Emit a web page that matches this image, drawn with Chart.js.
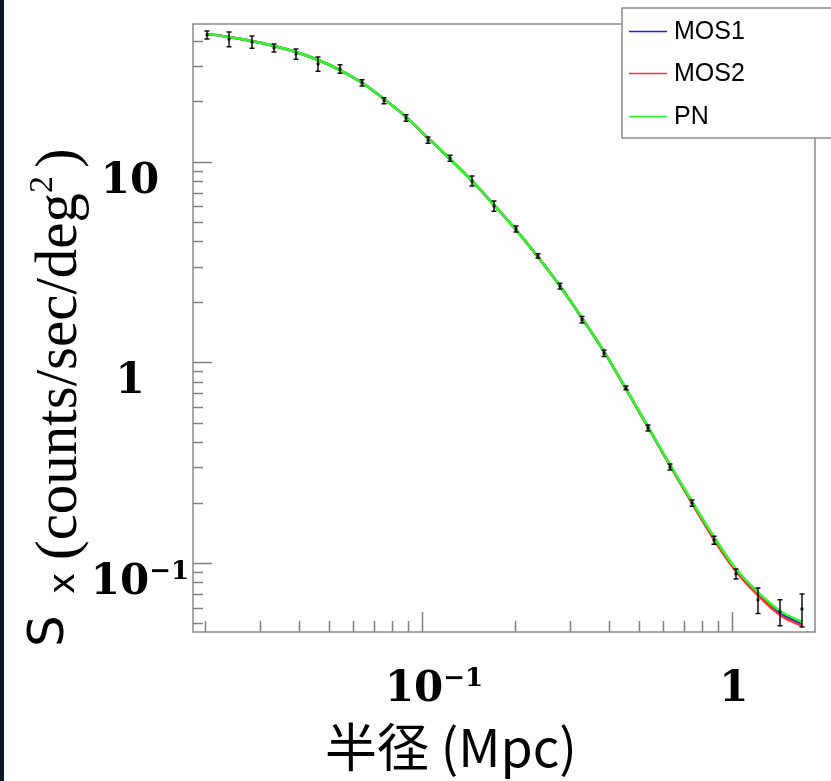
<!DOCTYPE html>
<html>
<head>
<meta charset="utf-8">
<title>Sx profile</title>
<script src="https://cdn.jsdelivr.net/npm/chart.js@4/dist/chart.umd.min.js"></script>
<style>
    html, body { margin: 0; padding: 0; background: #ffffff; }
    body { width: 831px; height: 781px; position: relative; overflow: hidden; }
    #strip { position: absolute; left: 0; top: 0; width: 4px; height: 781px; background: #0b1b2d; }
    #profileChart { position: absolute; left: 0; top: 0; }
</style>
</head>
<body>
<div id="strip"></div>
<canvas id="profileChart" width="831" height="781"></canvas>
<script>
// Radii (Mpc) of the measured bins
const radii = [0.02025, 0.02384, 0.02828, 0.03331, 0.03922, 0.04619, 0.05437, 0.06403,
    0.07541, 0.08878, 0.1046, 0.1231, 0.1449, 0.1707, 0.2010, 0.2366, 0.2787, 0.3282,
    0.3865, 0.4550, 0.5358, 0.6310, 0.7430, 0.8748, 1.030, 1.213, 1.428, 1.682];

// Measured surface brightness and its error
const sxData = [42.8, 40.8, 39.5, 36.9, 34.4, 30.7, 29.0, 24.7, 20.1, 16.5, 12.8, 10.4,
    8.01, 6.01, 4.62, 3.39, 2.40, 1.63, 1.11, 0.746, 0.471, 0.301, 0.199, 0.130,
    0.0883, 0.0655, 0.0571, 0.059];
const sxErr = [2.0, 3.4, 2.8, 1.7, 2.0, 2.5, 1.4, 0.9, 0.7, 0.6, 0.45, 0.36,
    0.46, 0.35, 0.16, 0.08, 0.08, 0.06, 0.04, 0.017, 0.016, 0.01, 0.007, 0.006,
    0.005, 0.0095, 0.0085, 0.011];

// Model curves
const mos1Model = [43.3, 41.8, 39.9, 37.7, 35.2, 32.1, 28.6, 24.7, 20.5, 16.7, 13.1, 10.3,
    8.01, 6.08, 4.57, 3.35, 2.40, 1.66, 1.13, 0.738, 0.476, 0.307, 0.200, 0.132,
    0.0920, 0.0699, 0.0562, 0.0497];
const mos2Model = [43.3, 41.8, 39.9, 37.7, 35.2, 32.1, 28.6, 24.7, 20.5, 16.7, 13.1, 10.3,
    8.01, 6.08, 4.57, 3.35, 2.40, 1.66, 1.13, 0.738, 0.476, 0.306, 0.199, 0.131,
    0.0910, 0.0690, 0.0550, 0.0485];
const pnModel = [43.3, 41.8, 39.9, 37.7, 35.2, 32.1, 28.6, 24.7, 20.5, 16.7, 13.1, 10.3,
    8.01, 6.08, 4.57, 3.35, 2.40, 1.66, 1.13, 0.740, 0.478, 0.309, 0.203, 0.135,
    0.0935, 0.0715, 0.0576, 0.0508];

// Axis ranges and labelled decades
const xRange = [0.01824, 1.853];
const yRange = [0.0453, 48.5];
const xTickLabels = [{ value: 0.1, base: '10', exp: '\u22121' }, { value: 1, base: '1', exp: '' }];
const yTickLabels = [{ value: 0.1, base: '10', exp: '\u22121' }, { value: 1, base: '1', exp: '' }, { value: 10, base: '10', exp: '' }];

const seriesNames = ['MOS1', 'MOS2', 'PN'];
const seriesColors = ['#1a1aff', '#ff3030', '#22ff22'];

document.addEventListener('DOMContentLoaded', function() {
    initProfileChart();
});

/**
 * Build {x, y} points from two arrays
 */
function toPoints(xs, ys) {
    return xs.map((x, i) => ({ x: x, y: ys[i] }));
}

/**
 * Draw a label like 10^-1 centred on cx
 */
function drawPowerLabel(ctx, base, exp, cx, baseline) {
    const baseFont = 'bold 42px "DejaVu Serif"';
    const expFont = 'bold 26px "DejaVu Serif"';
    ctx.font = baseFont;
    const wBase = ctx.measureText(base).width;
    ctx.font = expFont;
    const wExp = exp ? ctx.measureText(exp).width : 0;
    const shift = exp ? 10 : 0;
    const start = cx - (wBase + wExp) / 2 + shift;
    ctx.textAlign = 'left';
    ctx.textBaseline = 'alphabetic';
    ctx.fillStyle = '#000000';
    ctx.font = baseFont;
    ctx.fillText(base, start, baseline);
    if (exp) {
        ctx.font = expFont;
        ctx.fillText(exp, start + wBase, baseline - 15);
    }
}

/**
 * Draw rotated text piece at a screen position (reads bottom to top)
 */
function drawUp(ctx, text, font, x, y) {
    ctx.save();
    ctx.translate(x, y);
    ctx.rotate(-Math.PI / 2);
    ctx.font = font;
    ctx.textAlign = 'left';
    ctx.textBaseline = 'alphabetic';
    ctx.fillStyle = '#000000';
    ctx.fillText(text, 0, 0);
    const w = ctx.measureText(text).width;
    ctx.restore();
    return w;
}

// ROOT style frame, inner ticks, labels and titles
const framePlugin = {
    id: 'rootFrame',
    afterDraw(chart) {
        const ctx = chart.ctx;
        const area = chart.chartArea;
        const xs = chart.scales.x;
        const ys = chart.scales.y;

        ctx.save();
        // Ticks
        ctx.strokeStyle = '#808080';
        ctx.lineWidth = 1.5;
        for (let e = -3; e <= 2; e++) {
            for (let m = 1; m <= 9; m++) {
                const v = m * Math.pow(10, e);
                const len = m === 1 ? 19 : 10;
                if (v > yRange[0] && v < yRange[1]) {
                    const py = Math.round(ys.getPixelForValue(v)) + 0.5;
                    ctx.beginPath();
                    ctx.moveTo(area.left, py);
                    ctx.lineTo(area.left + len, py);
                    ctx.stroke();
                }
                if (v > xRange[0] && v < xRange[1]) {
                    const px = Math.round(xs.getPixelForValue(v)) + 0.5;
                    ctx.beginPath();
                    ctx.moveTo(px, area.bottom);
                    ctx.lineTo(px, area.bottom - len - 1);
                    ctx.stroke();
                }
            }
        }

        // Frame
        ctx.strokeStyle = '#8a8a8a';
        ctx.lineWidth = 1.5;
        ctx.strokeRect(area.left, area.top, area.right - area.left, area.bottom - area.top);

        // Tick labels
        yTickLabels.forEach(t => {
            const py = ys.getPixelForValue(t.value);
            drawPowerLabel(ctx, t.base, t.exp, area.left - 63, py + 31);
        });
        xTickLabels.forEach(t => {
            const px = xs.getPixelForValue(t.value);
            drawPowerLabel(ctx, t.base, t.exp, px + 2, 701);
        });

        // Y title
        drawUp(ctx, 'S', '50px "DejaVu Sans"', 63, 647);
        drawUp(ctx, 'x', '36px "DejaVu Sans"', 74, 594);
        const w = drawUp(ctx, '(counts/sec/deg', '59px "Liberation Serif"', 76, 560);
        drawUp(ctx, '2', '34px "Liberation Serif"', 52, 560 - w);
        drawUp(ctx, ')', '59px "Liberation Serif"', 76, 560 - w - 25);

        // X title
        ctx.font = '52px "Noto Sans CJK JP"';
        ctx.textAlign = 'center';
        ctx.textBaseline = 'alphabetic';
        ctx.fillStyle = '#000000';
        ctx.fillText('\u534a\u5f84 (Mpc)', 451, 767);

        // Legend
        ctx.fillStyle = '#ffffff';
        ctx.fillRect(622, 8, 220, 130);
        ctx.strokeStyle = '#8a8a8a';
        ctx.lineWidth = 1.5;
        ctx.strokeRect(622, 8, 220, 130);
        const rows = [31, 73, 116];
        chart.data.datasets.slice(0, 3).forEach((ds, i) => {
            ctx.strokeStyle = ds.borderColor;
            ctx.lineWidth = 1.5;
            ctx.beginPath();
            ctx.moveTo(629, rows[i] + 0.5);
            ctx.lineTo(667, rows[i] + 0.5);
            ctx.stroke();
            ctx.fillStyle = '#000000';
            ctx.font = '25px "Liberation Sans"';
            ctx.textAlign = 'left';
            ctx.textBaseline = 'middle';
            ctx.fillText(ds.label, 674, rows[i] + 1);
        });
        ctx.restore();
    }
};

// Vertical error bars on the data points
const errorBarPlugin = {
    id: 'errorBars',
    afterDatasetsDraw(chart) {
        const ctx = chart.ctx;
        const xs = chart.scales.x;
        const ys = chart.scales.y;
        ctx.save();
        ctx.strokeStyle = '#111111';
        ctx.lineWidth = 1.5;
        radii.forEach((r, i) => {
            const px = Math.round(xs.getPixelForValue(r));
            const top = ys.getPixelForValue(sxData[i] + sxErr[i]);
            const bot = ys.getPixelForValue(sxData[i] - sxErr[i]);
            ctx.beginPath();
            ctx.moveTo(px, top);
            ctx.lineTo(px, bot);
            ctx.moveTo(px - 2.5, top);
            ctx.lineTo(px + 2.5, top);
            ctx.moveTo(px - 2.5, bot);
            ctx.lineTo(px + 2.5, bot);
            ctx.stroke();
        });
        ctx.restore();
    }
};

/**
 * Initialize the surface brightness profile chart
 */
function initProfileChart() {
    const ctx = document.getElementById('profileChart').getContext('2d');
    const models = [mos1Model, mos2Model, pnModel];
    const lineOrder = [3, 2, 1];

    const datasets = models.map((m, i) => ({
        label: seriesNames[i],
        data: toPoints(radii, m),
        borderColor: seriesColors[i],
        borderWidth: 2.5,
        pointRadius: 0,
        showLine: true,
        fill: false,
        cubicInterpolationMode: 'monotone',
        order: lineOrder[i]
    }));
    datasets.push({
        label: 'data',
        data: toPoints(radii, sxData),
        showLine: false,
        pointStyle: 'rect',
        pointRadius: 2,
        backgroundColor: '#000000',
        borderColor: '#000000',
        borderWidth: 0,
        order: 0
    });

    new Chart(ctx, {
        type: 'scatter',
        data: { datasets: datasets },
        options: {
            responsive: false,
            animation: false,
            devicePixelRatio: 1,
            layout: { padding: { left: 193, top: 24, right: 16, bottom: 149 } },
            plugins: {
                legend: { display: false },
                tooltip: { enabled: false }
            },
            scales: {
                x: { type: 'logarithmic', min: xRange[0], max: xRange[1], display: false },
                y: { type: 'logarithmic', min: yRange[0], max: yRange[1], display: false }
            }
        },
        plugins: [errorBarPlugin, framePlugin]
    });
}
</script>
</body>
</html>
